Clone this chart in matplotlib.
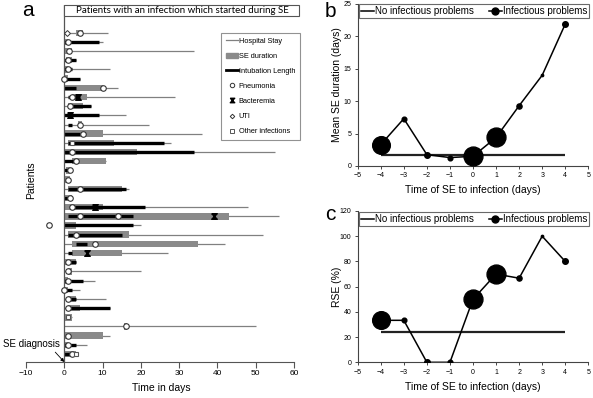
import numpy as np
import matplotlib
matplotlib.use('Agg')
import matplotlib.pyplot as plt
from matplotlib.path import Path
from matplotlib.patches import Rectangle, Patch
from matplotlib.lines import Line2D

plt.rcParams['font.family'] = ['Liberation Sans', 'DejaVu Sans']

# ---- panel a: one entry per patient (top to bottom) ----
hosp_end = [11.5, 10, 34, 3, 12, 4, 14, 29, 7, 16, 22, 36, 28, 55, 11, 1, 1, 17, 2,
            48, 56, 20, 52, 42, 27, 3, 20, 8, 4, 11, 12, 2, 50, 12, 6, 3]
se_start = [3, 0, 0, 0.5, 0, 0, 0, 2, 1, 1, 3.5, 0, 1, 0, 2, 0.5, 0, 1, 0,
            0, 0, 0, 1, 2, 2, 0, 1, 0, 0, 1, 1, 0, 15.5, 0, 0, 0]
se_end = [5, 1, 2, 2, 1, 1, 10, 6, 5, 2, 4.5, 10, 13, 19, 11, 1.5, 1.5, 15, 2,
          10, 43, 3, 17, 35, 15, 3, 2, 1, 1, 3, 4, 2, 16.5, 10, 1, 3]
intub_start = [None, 0, None, 0, 0, 0, 0, 1, 1, 0, 1, 0, 1, 0, 0, 0, None, 1, 0,
               2, 1, 0, 1, 3, 1, 1, None, 0, 0, 1, 1, None, None, None, 0, 0]
intub_end = [None, 9, None, 3, 2, 4, 3, 4, 7, 9, 2, 4, 26, 34, 3, 1, None, 16, 2,
             21, 18, 18, 15, 6, 2, 3, None, 5, 2, 3, 12, None, None, None, 3, 3]
pneumonia = [[4], [1], [1.2], [1], [1], [0], [10], [2], [1.5], [], [4], [5], [], [2], [3],
             [1.5], [1], [4], [1.5], [2], [4, 14], [-4], [3], [8], [], [1], [1], [1], [0],
             [1], [1], [], [16], [1], [1], [2]]
bacteremia = [[], [], [], [], [], [], [], [3.5], [], [1.5], [], [], [], [], [], [], [], [], [],
              [8], [39], [], [], [], [6], [], [], [], [], [], [], [], [], [], [], []]
uti = [[0.8]] + [[] for _ in range(35)]
other_inf = [[], [], [], [], [], [], [], [], [], [], [], [], [2], [], [], [], [], [], [],
             [], [], [], [], [], [], [], [], [], [], [], [], [1], [], [], [], [3]]

# ---- panels b and c ----
days = [-4, -3, -2, -1, 0, 1, 2, 3, 4]
mean_se = [3.3, 7.3, 1.75, 1.3, 1.5, 4.4, 9.3, 14.0, 21.9]
no_inf_se = 1.75
rse = [33.3, 33.3, 0, 0, 50, 70, 66.7, 100, 80]
no_inf_rse = 24.3
group_n = [14, 1, 1.4, 1, 16, 16, 1.2, 0.25, 1.4]

fig = plt.figure(figsize=(5.93, 3.98), dpi=100)

# ================= panel a =================
ax = fig.add_axes([26/593, 1-362/398, 268/593, 357/398])
rows = np.arange(len(hosp_end))
grey = '#8a8a8a'
ax.hlines(rows, 0, hosp_end, color='#808080', lw=0.9, zorder=1)
ax.barh(rows, np.array(se_end) - np.array(se_start), left=se_start, height=0.7,
        color=grey, zorder=2)
for r, a0, a1 in zip(rows, intub_start, intub_end):
    if a0 is not None:
        ax.hlines(r, a0, a1, color='black', lw=2.4, zorder=3)
hourglass = Path([(-1, 1), (1, 1), (-1, -1), (1, -1), (-1, 1)])
for r in rows:
    for v in pneumonia[r]:
        ax.plot(v, r, 'o', ms=4, mfc='white', mec='#333333', mew=0.8, zorder=5)
    for v in bacteremia[r]:
        ax.plot(v, r, marker=hourglass, ms=4, color='black', ls='none', zorder=5)
    for v in uti[r]:
        ax.plot(v, r, 'D', ms=3, mfc='white', mec='#333333', mew=0.7, zorder=5)
    for v in other_inf[r]:
        ax.plot(v, r, 's', ms=3.5, mfc='white', mec='#555555', mew=0.8, zorder=5)

ax.set_xlim(-10, 60)
ax.set_ylim(35.87, -3.02)
ax.axvline(0, color='#555555', lw=0.9, zorder=4)
for s in ['left', 'top', 'right']:
    ax.spines[s].set_visible(False)
ax.spines['bottom'].set_color('#555555')
ax.set_yticks([])
ax.set_xticks(range(-10, 61, 10))
ax.tick_params(axis='x', labelsize=6, length=4, width=0.8, color='#555555', pad=2)
ax.set_xlabel('Time in days', fontsize=7.5)
ax.xaxis.set_label_coords(0.504, -0.06)
ax.set_ylabel('Patients', fontsize=7.5)
ax.yaxis.set_label_coords(0.036, 0.51)

ax.add_patch(Rectangle((0, -3.02), 61.4, 1.2, facecolor='white', edgecolor='#555555',
                       lw=0.8, clip_on=False, zorder=6))
ax.text(30.9, -2.38, 'Patients with an infection which started during SE', fontsize=7.0,
        family=['Lato', 'DejaVu Sans'], ha='center', va='center', zorder=7)

ax.annotate('SE diagnosis', xy=(0, 35.87), xytext=(-16.1, 33.95), fontsize=7,
            ha='left', va='center', annotation_clip=False,
            arrowprops=dict(arrowstyle='-|>', color='black', lw=0.6, mutation_scale=5,
                            shrinkA=0, shrinkB=0, relpos=(0.88, 0)))

handles = [
    Line2D([], [], color='#808080', lw=0.9),
    Patch(color=grey),
    Line2D([], [], color='black', lw=2),
    Line2D([], [], marker='o', ls='none', ms=3.2, mfc='white', mec='#333333', mew=0.7),
    Line2D([], [], marker=hourglass, ls='none', ms=3.2, color='black'),
    Line2D([], [], marker='D', ls='none', ms=2.3, mfc='white', mec='#333333', mew=0.7),
    Line2D([], [], marker='s', ls='none', ms=2.8, mfc='white', mec='#555555', mew=0.7),
]
labels = ['Hospital Stay', 'SE duration', 'Intubation Length', 'Pneumonia',
          'Bacteremia', 'UTI', 'Other infections']
leg = ax.legend(handles, labels, loc='upper right', bbox_to_anchor=(300/593, 1-33/398),
                bbox_transform=fig.transFigure, fontsize=5.3, frameon=True, fancybox=False,
                handlelength=1.6, handletextpad=0.15, labelspacing=1.07, borderpad=0.65,
                borderaxespad=0)
leg.get_frame().set_edgecolor('#777777')
leg.get_frame().set_linewidth(0.8)
leg.set_zorder(8)


# ================= panels b and c =================
def small_panel(rect, yvals, ref, ylim, yticks, ylabel, xlabel_y, leg_y):
    axp = fig.add_axes(rect)
    sizes = [np.sqrt(n) * 3.4 for n in group_n]
    axp.hlines(ref, -4, 4, color='#222222', lw=1.6, zorder=1)
    axp.plot(days, yvals, color='black', lw=1.1, zorder=2)
    for d, v, s in zip(days, yvals, sizes):
        axp.plot(d, v, 'o', ms=s, color='black', zorder=3)
    axp.set_xlim(-5, 5)
    axp.set_ylim(*ylim)
    axp.set_xticks(range(-5, 6))
    axp.set_yticks(yticks)
    axp.spines['top'].set_visible(False)
    axp.spines['right'].set_visible(False)
    for s in ['left', 'bottom']:
        axp.spines[s].set_color('#444444')
        axp.spines[s].set_linewidth(0.8)
    axp.tick_params(labelsize=5, length=2.5, width=0.7, color='#444444', pad=2)
    axp.set_xlabel('Time of SE to infection (days)', fontsize=7.5)
    axp.xaxis.set_label_coords(0.5, xlabel_y)
    axp.set_ylabel(ylabel, fontsize=7.5)
    axp.yaxis.set_label_coords(-0.07, 0.5)
    h = [Line2D([], [], color='black', lw=1.1),
         Line2D([], [], color='black', lw=1.1, marker='o', ms=5)]
    lg = axp.legend(h, ['No infectious problems', 'Infectious problems'], ncol=2,
                    loc='center', bbox_to_anchor=(474/593, 1-leg_y/398),
                    bbox_transform=fig.transFigure, fontsize=7, fancybox=False,
                    handlelength=1.3, handletextpad=0.1, columnspacing=1.6,
                    borderpad=0.25, borderaxespad=0)
    lg.get_frame().set_edgecolor('#444444')
    lg.get_frame().set_linewidth(0.8)
    return axp


small_panel([357.7/593, 1-166/398, 230.6/593, 162/398], mean_se, no_inf_se,
            (0, 25), range(0, 26, 5), 'Mean SE duration (days)', -0.115, 11)
small_panel([357.7/593, 1-362.3/398, 230.6/593, 151.3/398], rse, no_inf_rse,
            (0, 120), range(0, 121, 20), 'RSE (%)', -0.13, 219)

fig.text(22/593, 1-16/398, 'a', fontsize=15, va='baseline')
fig.text(325/593, 1-17/398, 'b', fontsize=15, va='baseline')
fig.text(325/593, 1-220/398, 'c', fontsize=15, va='baseline')

fig.savefig('out.png', dpi=100)
